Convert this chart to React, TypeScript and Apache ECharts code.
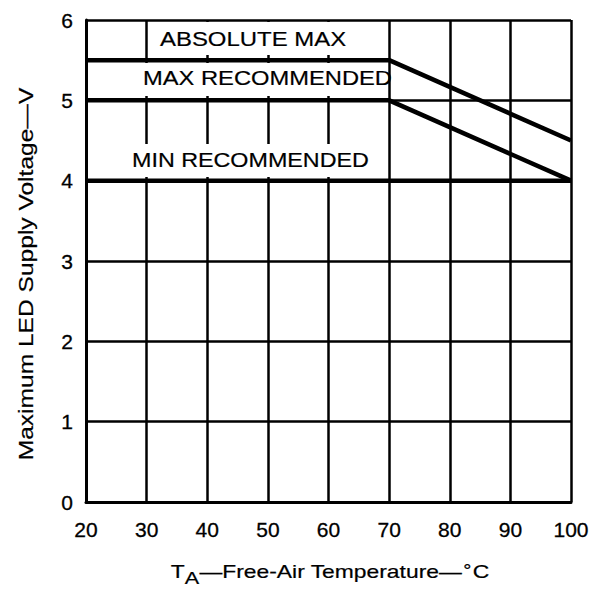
import React, { useEffect, useRef } from "react";
import * as echarts from "echarts";

const xTicks = [20, 30, 40, 50, 60, 70, 80, 90, 100];
const absMaxX = [20, 70, 100];
const absMaxY = [5.5, 5.5, 4.5];
const maxRecX = [20, 70, 100];
const maxRecY = [5.0, 5.0, 4.0];
const minRecX = [20, 100];
const minRecY = [4.0, 4.0];
const lineLabels = ["ABSOLUTE MAX", "MAX RECOMMENDED", "MIN RECOMMENDED"];
const xTitleParts = ["T", "A", "—Free-Air Temperature—", "°", "C"];
const yTitle = "Maximum LED Supply Voltage—V";

const FONT = "'Liberation Sans', Arial, Helvetica, sans-serif";
const INK = "#000";

export default function App() {
  const ref = useRef<HTMLDivElement>(null);
  useEffect(() => {
    document.body.style.margin = "0";
    const chart = echarts.init(ref.current!, null, { renderer: "svg" });
    const zip = (xs: number[], ys: number[]) => xs.map((x, i) => [x, ys[i]]);
    const lineSeries = (data: number[][]) => ({
      type: "line",
      data,
      symbol: "none",
      lineStyle: { color: INK, width: 4.5 },
      z: 5,
    });
    const labelText = (text: string, x: number, y: number, sx: number) => ({
      type: "text",
      x,
      y,
      scaleX: sx,
      z: 10,
      style: {
        text,
        fontSize: 21,
        fill: INK,
        stroke: INK,
        lineWidth: 0.2,
        fontFamily: FONT,
        align: "left",
        verticalAlign: "middle",
      },
    });
    const whiteBox = (x: number, y: number, w: number, h: number) => ({
      type: "rect",
      z: 1,
      shape: { x, y, width: w, height: h },
      style: { fill: "#fff" },
    });
    const axisLabelStyle = {
      color: INK,
      fontSize: 21,
      fontFamily: FONT,
      textBorderColor: INK,
      textBorderWidth: 0.3,
    };
    const rt = { fill: INK, fontFamily: FONT, stroke: INK, lineWidth: 0.2, lineHeight: 24 };
    chart.setOption({
      animation: false,
      backgroundColor: "#fff",
      textStyle: { fontFamily: FONT },
      grid: { left: 86, right: 26, top: 20, bottom: 90 },
      xAxis: {
        type: "value",
        min: 20,
        max: 100,
        interval: 10,
        z: 0,
        axisLine: { show: true, lineStyle: { color: INK, width: 3 } },
        axisTick: { show: false },
        splitLine: { show: true, lineStyle: { color: INK, width: 2.5 } },
        axisLabel: {
          ...axisLabelStyle,
          margin: 17,
          formatter: (v: number) => (xTicks.includes(v) ? String(v) : ""),
        },
      },
      yAxis: {
        type: "value",
        min: 0,
        max: 6,
        interval: 1,
        z: 0,
        axisLine: { show: true, lineStyle: { color: INK, width: 3 } },
        axisTick: { show: false },
        splitLine: { show: true, lineStyle: { color: INK, width: 2.5 } },
        axisLabel: { ...axisLabelStyle, margin: 13 },
      },
      series: [
        lineSeries(zip(absMaxX, absMaxY)),
        lineSeries(zip(maxRecX, maxRecY)),
        lineSeries(zip(minRecX, minRecY)),
      ],
      graphic: [
        whiteBox(149, 22, 238, 33),
        whiteBox(88, 63, 299, 33),
        whiteBox(88, 144, 299, 33),
        labelText(lineLabels[0], 160, 39.5, 1.14),
        labelText(lineLabels[1], 143, 78, 1.13),
        labelText(lineLabels[2], 132, 160, 1.11),
        {
          type: "text",
          x: 26,
          y: 274,
          rotation: Math.PI / 2,
          scaleX: 1.17,
          z: 10,
          style: {
            text: yTitle,
            fontSize: 21,
            fill: INK,
            stroke: INK,
            lineWidth: 0.2,
            fontFamily: FONT,
            align: "center",
            verticalAlign: "middle",
          },
        },
        {
          type: "text",
          x: 330,
          y: 574,
          scaleX: 1.27,
          z: 10,
          style: {
            text: `{t|${xTitleParts[0]}}{s|${xTitleParts[1]}}{t|${xTitleParts[2]}}{d|${xTitleParts[3]}}{t|${xTitleParts[4]}}`,
            fill: INK,
            fontFamily: FONT,
            align: "center",
            verticalAlign: "middle",
            rich: {
              t: { ...rt, fontSize: 18, verticalAlign: "top" },
              s: { ...rt, fontSize: 17, verticalAlign: "bottom", padding: [10, 0, 0, 0] },
              d: { ...rt, fontSize: 16, verticalAlign: "top", padding: [0, 1, 8, 1] },
            },
          },
        },
      ],
    });
    return () => chart.dispose();
  }, []);
  return <div ref={ref} style={{ width: 597, height: 592 }} />;
}
